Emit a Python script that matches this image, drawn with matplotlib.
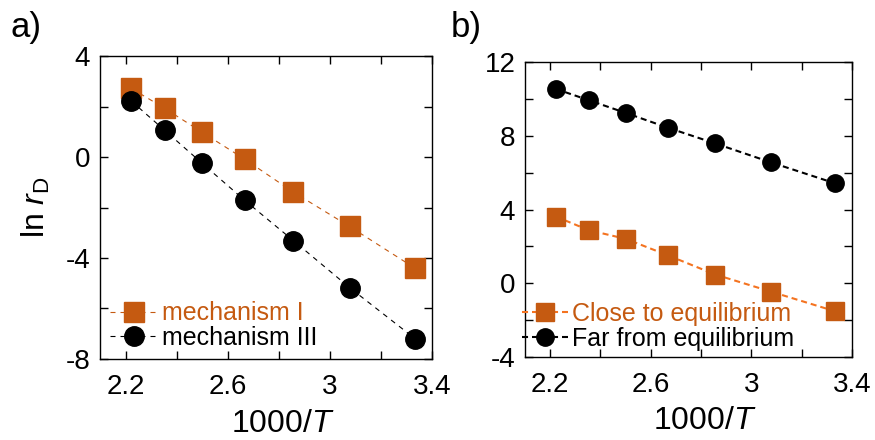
import numpy as np
import matplotlib
matplotlib.use("Agg")
import matplotlib.pyplot as plt
from matplotlib.ticker import FixedLocator, FuncFormatter

plt.rcParams['font.family'] = ['Liberation Sans', 'DejaVu Sans']
plt.rcParams['mathtext.fontset'] = 'custom'
plt.rcParams['mathtext.rm'] = 'Liberation Sans'
plt.rcParams['mathtext.it'] = 'Liberation Sans:italic'

# 1000/T for T = 450 ... 300 K
inv_T = [2.222, 2.353, 2.500, 2.667, 2.857, 3.077, 3.333]

# panel a: ln rD for the two mechanisms
mech_I = [2.72, 1.93, 0.98, -0.09, -1.39, -2.75, -4.40]
mech_III = [2.22, 1.06, -0.25, -1.72, -3.31, -5.17, -7.19]

# panel b: ln rD close to / far from equilibrium
close_eq = [3.62, 2.88, 2.41, 1.52, 0.47, -0.45, -1.52]
far_eq = [10.54, 9.93, 9.24, 8.44, 7.58, 6.56, 5.42]

x_major = [2.2, 2.6, 3.0, 3.4]
x_minor = [2.4, 2.8, 3.2]

orange = '#C55A11'
orange_line = '#F47320'

fig = plt.figure(figsize=(8.75, 4.4), dpi=100)
ax1 = fig.add_axes([0.1143, 0.1841, 0.3794, 0.6886])
ax2 = fig.add_axes([0.6, 0.1886, 0.3737, 0.6705])

hyphen = FuncFormatter(lambda v, p: ('%g' % v).replace('\u2212', '-'))


def style_axes(ax, y_major, y_minor):
    ax.set_xlim(2.1, 3.4)
    ax.set_ylim(y_major[0], y_major[-1])
    ax.xaxis.set_major_locator(FixedLocator(x_major))
    ax.xaxis.set_minor_locator(FixedLocator(x_minor))
    ax.yaxis.set_major_locator(FixedLocator(y_major))
    ax.yaxis.set_minor_locator(FixedLocator(y_minor))
    ax.xaxis.set_major_formatter(hyphen)
    ax.yaxis.set_major_formatter(hyphen)
    ax.tick_params(which='both', direction='in', top=True, right=True,
                   length=6, width=1, labelsize=20)
    ax.tick_params(axis='x', pad=11)
    ax.tick_params(axis='y', pad=7)
    for s in ax.spines.values():
        s.set_linewidth(1)
    ax.set_xlabel('1000/$T$', fontsize=23)
    ax.xaxis.set_label_coords(0.55, -0.165)


# panel a
ax1.plot(inv_T, mech_I, color=orange, lw=0.8, dashes=(4.5, 4.5),
         marker='s', ms=15, mfc=orange, mec=orange, label='mechanism I')
ax1.plot(inv_T, mech_III, color='black', lw=0.8, dashes=(4.5, 4.5),
         marker='o', ms=14, mfc='black', mec='black', label='mechanism III')
style_axes(ax1, [-8, -4, 0, 4], [-6, -2, 2])
ax1.set_ylabel('ln $r_\\mathrm{D}$', fontsize=23, labelpad=10)
leg1 = ax1.legend(loc='lower left', bbox_to_anchor=(0.03, 0.03), frameon=False,
                  fontsize=18, handlelength=1.9, handletextpad=0.2,
                  labelspacing=0.02, borderpad=0, borderaxespad=0)
for t, c in zip(leg1.get_texts(), [orange, 'black']):
    t.set_color(c)

# panel b
ax2.plot(inv_T, close_eq, color=orange_line, lw=1.5, dashes=(2.9, 1.9),
         marker='s', ms=13.5, mfc=orange, mec=orange, label='Close to equilibrium')
ax2.plot(inv_T, far_eq, color='black', lw=1.5, dashes=(2.9, 1.9),
         marker='o', ms=12.5, mfc='black', mec='black', label='Far from equilibrium')
style_axes(ax2, [-4, 0, 4, 8, 12], [-2, 2, 6, 10])
leg2 = ax2.legend(loc='lower left', bbox_to_anchor=(-0.01, 0.02), frameon=False,
                  fontsize=18, handlelength=1.85, handletextpad=0.15,
                  labelspacing=0.05, borderpad=0, borderaxespad=0)
for t, c in zip(leg2.get_texts(), [orange, 'black']):
    t.set_color(c)

fig.text(0.012, 0.975, 'a)', fontsize=25, va='top', ha='left')
fig.text(0.515, 0.975, 'b)', fontsize=25, va='top', ha='left')

fig.savefig('out.png', dpi=100)
